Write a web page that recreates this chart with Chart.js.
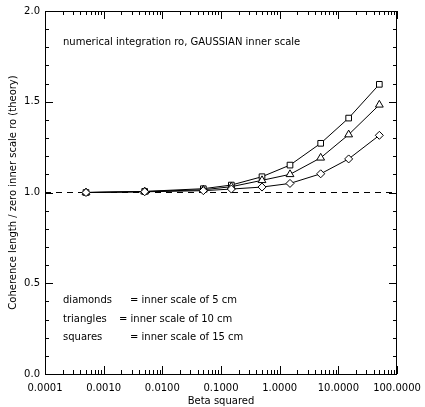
<!DOCTYPE html>
<html>
<head>
<meta charset="utf-8">
<script src="https://cdn.jsdelivr.net/npm/chart.js@4.4.1/dist/chart.umd.min.js"></script>
<style>
  html, body { margin: 0; padding: 0; background: #fff; }
  #wrap { width: 425px; height: 407px; }
</style>
</head>
<body>
<div id="wrap"><canvas id="grafica" width="425" height="407"></canvas></div>
<script>
// ===============================
// DATOS
// ===============================
const betaSq     = [0.0005, 0.005, 0.05, 0.15, 0.5, 1.5, 5, 15, 50];
const diamonds   = [1.000, 1.004, 1.010, 1.019, 1.030, 1.050, 1.103, 1.185, 1.315];
const triangles  = [1.000, 1.005, 1.015, 1.032, 1.067, 1.100, 1.191, 1.319, 1.483];
const squares    = [1.000, 1.006, 1.021, 1.041, 1.087, 1.151, 1.271, 1.410, 1.596];
const refX       = [0.0001, 100];
const refY       = [1.0, 1.0];
const xTicks     = [0.0001, 0.001, 0.01, 0.1, 1, 10, 100];
const yTicks     = [0.0, 0.5, 1.0, 1.5, 2.0];

const titleTxt = "numerical integration ro, GAUSSIAN inner scale";
const legendTxt = [
  ["diamonds", "= inner scale of 5 cm"],
  ["triangles", "= inner scale of 10 cm"],
  ["squares", "= inner scale of 15 cm"]
];

const FONT = "'DejaVu Sans', sans-serif";
const pts = (xs, ys) => xs.map((x, i) => ({ x, y: ys[i] }));

function serie(label, ys, style) {
  return {
    label,
    data: pts(betaSq, ys),
    borderColor: "#000",
    borderWidth: 1,
    pointStyle: style,
    pointRadius: style === "triangle" ? 4.5 : 4,
    pointBackgroundColor: "#fff",
    pointBorderColor: "#000",
    pointBorderWidth: 1,
    tension: 0
  };
}

// ===============================
// MARCO, TICKS Y TEXTOS
// ===============================
const marco = {
  id: "marco",
  afterDraw(chart) {
    const { ctx, chartArea: a, scales: { x, y } } = chart;
    ctx.save();
    ctx.strokeStyle = "#000";
    ctx.lineWidth = 1;
    ctx.strokeRect(a.left + 0.5, a.top + 0.5, a.right - a.left - 1, a.bottom - a.top);

    ctx.beginPath();
    // y ticks (izquierda y derecha)
    for (let i = 0; i <= 20; i++) {
      const py = Math.round(y.getPixelForValue(i / 10)) + 0.5;
      const len = i % 5 === 0 ? 8 : 4;
      ctx.moveTo(a.left, py); ctx.lineTo(a.left + len, py);
      ctx.moveTo(a.right, py); ctx.lineTo(a.right - len, py);
    }
    // x ticks (abajo y arriba)
    for (let d = 0; d < xTicks.length; d++) {
      const dec = xTicks[d];
      for (let m = 1; m <= 9; m++) {
        const v = dec * m;
        if (v > 100) break;
        const px = Math.round(x.getPixelForValue(v)) + 0.5;
        const len = m === 1 ? 8 : 4;
        ctx.moveTo(px, a.bottom); ctx.lineTo(px, a.bottom - len);
        ctx.moveTo(px, a.top); ctx.lineTo(px, a.top + len);
      }
    }
    ctx.stroke();

    ctx.fillStyle = "#000";
    ctx.font = "10px " + FONT;
    ctx.textBaseline = "middle";
    ctx.textAlign = "left";
    ctx.fillText(titleTxt, a.left + 18, 42);
    const ly = [300, 319, 337];
    const eqX = [130, 119, 130];
    legendTxt.forEach((l, i) => {
      ctx.fillText(l[0], a.left + 18, ly[i]);
      ctx.fillText(l[1], eqX[i], ly[i]);
    });
    ctx.restore();
  }
};

// ===============================
// GRAFICA
// ===============================
const ctx = document.getElementById("grafica").getContext("2d");

new Chart(ctx, {
  type: "line",
  data: {
    datasets: [
      serie("diamonds", diamonds, "rectRot"),
      serie("triangles", triangles, "triangle"),
      serie("squares", squares, "rect"),
      {
        label: "ref",
        data: pts(refX, refY),
        borderColor: "#000",
        borderWidth: 1,
        borderDash: [6, 5],
        pointRadius: 0
      }
    ]
  },
  options: {
    responsive: false,
    animation: false,
    events: [],
    layout: { padding: { top: 9, right: 28, left: 0, bottom: 0 } },
    plugins: {
      legend: { display: false },
      tooltip: { enabled: false }
    },
    scales: {
      x: {
        type: "logarithmic",
        min: 0.0001,
        max: 100,
        afterBuildTicks: s => { s.ticks = xTicks.map(v => ({ value: v })); },
        afterFit: s => { s.height = 33; s.paddingLeft = 0; s.paddingRight = 0; },
        grid: { display: false, drawTicks: false },
        border: { display: false },
        ticks: {
          color: "#000",
          font: { family: FONT, size: 10 },
          padding: 8,
          maxRotation: 0,
          autoSkip: false,
          callback: v => Number(v).toFixed(4)
        },
        title: {
          display: true,
          text: "Beta squared",
          color: "#000",
          font: { family: FONT, size: 10 },
          padding: { top: 0, bottom: 0 }
        }
      },
      y: {
        min: 0,
        max: 2,
        afterBuildTicks: s => { s.ticks = yTicks.map(v => ({ value: v })); },
        afterFit: s => { s.width = 45; },
        grid: { display: false, drawTicks: false },
        border: { display: false },
        ticks: {
          color: "#000",
          font: { family: FONT, size: 10 },
          padding: 5,
          callback: v => Number(v).toFixed(1)
        },
        title: {
          display: true,
          text: "Coherence length / zero inner scale ro (theory)",
          color: "#000",
          font: { family: FONT, size: 10 },
          padding: { top: 7, bottom: 0 }
        }
      }
    }
  },
  plugins: [marco]
});
</script>
</body>
</html>
